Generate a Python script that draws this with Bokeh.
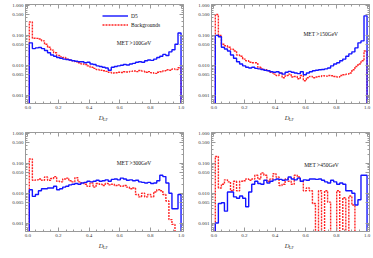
import numpy as np
from bokeh.plotting import figure
from bokeh.layouts import gridplot
from bokeh.models import (FixedTicker, SingleIntervalTicker, PrintfTickFormatter,
                          Label, Legend, LegendItem, LinearAxis, LogAxis)
from bokeh.embed import file_html
from bokeh.resources import INLINE

# ---------------- data ----------------
EMPTY = 1e-6  # empty bin (below the plotted range)
BIN_LO, BIN_HI, N_BINS = 0.01, 1.0, 50

titles = ["MET >100GeV", "MET >150GeV", "MET >300GeV", "MET >450GeV"]
x_label_main, x_label_sub = "D", "LF"

d5_100 = [0.056, 0.036, 0.038, 0.039, 0.036, 0.031, 0.026, 0.022, 0.020, 0.018,
          0.017, 0.016, 0.0155, 0.015, 0.014, 0.0135, 0.013, 0.013, 0.012, 0.0125,
          0.011, 0.0105, 0.0095, 0.009, 0.0085, 0.008, 0.0068, 0.0085, 0.009, 0.0095,
          0.010, 0.0105, 0.0102, 0.011, 0.0115, 0.0125, 0.013, 0.0125, 0.014, 0.015,
          0.0145, 0.016, 0.018, 0.020, 0.023, 0.021, 0.028, 0.033, 0.050, 0.12]
bg_100 = [0.28, 0.080, 0.079, 0.075, 0.065, 0.050, 0.040, 0.032, 0.026, 0.021,
          0.019, 0.018, 0.016, 0.015, 0.014, 0.013, 0.012, 0.011, 0.0105, 0.0095,
          0.0085, 0.0078, 0.0072, 0.0068, 0.0065, 0.0062, 0.0058, 0.0055, 0.0056, 0.0058,
          0.0057, 0.0060, 0.0059, 0.0062, 0.0064, 0.0061, 0.0066, 0.0063, 0.0058, 0.0061,
          0.0056, 0.0053, 0.0058, 0.0060, 0.0065, 0.0070, 0.0068, 0.0075, 0.0072, 0.0082]

d5_150 = [0.10, 0.09, 0.040, 0.035, 0.030, 0.022, 0.017, 0.013, 0.011, 0.0095,
          0.0085, 0.008, 0.0085, 0.0078, 0.0075, 0.0072, 0.0068, 0.0065, 0.006, 0.0058,
          0.006, 0.0055, 0.005, 0.0058, 0.0062, 0.0058, 0.0055, 0.0052, 0.006, 0.0048,
          0.0055, 0.006, 0.0065, 0.0068, 0.007, 0.0072, 0.0075, 0.008, 0.0095, 0.011,
          0.012, 0.014, 0.016, 0.020, 0.024, 0.028, 0.038, 0.056, 0.065, 0.45]
bg_150 = [0.50, 0.10, 0.050, 0.045, 0.040, 0.034, 0.030, 0.022, 0.020, 0.016,
          0.014, 0.0125, 0.012, 0.012, 0.0085, 0.0075, 0.007, 0.0065, 0.0058, 0.005,
          0.0045, 0.0055, 0.0038, 0.0045, 0.005, 0.004, 0.0042, 0.0035, 0.0045, 0.003,
          0.0038, 0.0042, 0.0038, 0.004, 0.0042, 0.0044, 0.0043, 0.0045, 0.0044, 0.0042,
          0.004, 0.0045, 0.0048, 0.005, 0.0055, 0.007, 0.009, 0.011, 0.014, 0.030]

d5_300 = [0.013, 0.0078, 0.009, 0.012, 0.014, 0.014, 0.015, 0.015, 0.017, 0.013,
          0.014, 0.016, 0.017, 0.019, 0.020, 0.021, 0.020, 0.022, 0.023, 0.025,
          0.024, 0.025, 0.027, 0.025, 0.026, 0.028, 0.025, 0.029, 0.030, 0.028,
          0.032, 0.030, 0.027, 0.028, 0.026, 0.027, 0.024, 0.023, 0.022, 0.023,
          0.021, 0.022, 0.026, 0.040, 0.036, 0.022, 0.010, 0.003, 0.003, 0.009]
bg_300 = [0.14, 0.027, 0.028, 0.030, 0.027, 0.035, 0.027, 0.031, 0.036, 0.025,
          0.024, 0.030, 0.032, 0.026, 0.024, 0.033, 0.024, 0.022, 0.020, 0.017,
          0.022, 0.016, 0.021, 0.020, 0.018, 0.021, 0.019, 0.020, 0.018, 0.019,
          0.017, 0.018, 0.016, 0.014, 0.015, 0.009, 0.0075, 0.010, 0.0075, 0.009,
          0.0075, 0.011, 0.013, 0.012, 0.009, 0.0055, 0.0013, 0.0009, EMPTY, EMPTY]

d5_450 = [0.001, 0.0045, 0.0048, 0.0025, 0.011, 0.011, 0.0075, 0.0068, 0.008, 0.0068,
          0.0035, 0.011, 0.020, 0.025, 0.021, 0.020, 0.027, 0.022, 0.025, 0.028,
          0.030, 0.029, 0.027, 0.028, 0.035, 0.030, 0.028, 0.032, 0.025, 0.028,
          0.027, 0.030, 0.030, 0.029, 0.030, 0.027, 0.024, 0.022, 0.027, 0.024,
          0.020, 0.022, 0.020, 0.012, 0.012, 0.010, 0.004, 0.006, 0.040, 0.040]
bg_450 = [0.17, 0.015, 0.020, 0.028, 0.024, 0.012, 0.025, 0.012, 0.025, 0.026,
          0.030, 0.027, 0.030, 0.040, 0.030, 0.048, 0.040, 0.025, 0.030, 0.045,
          0.035, 0.018, 0.020, 0.030, 0.025, 0.020, 0.040, 0.035, 0.025, 0.012,
          0.015, 0.012, 0.0045, EMPTY, 0.012, EMPTY, 0.012, 0.005, EMPTY, EMPTY,
          0.012, EMPTY, 0.007, EMPTY, 0.008, 0.004, EMPTY, EMPTY, EMPTY, EMPTY]

signal = [d5_100, d5_150, d5_300, d5_450]
background = [bg_100, bg_150, bg_300, bg_450]

y_major = [0.001, 0.005, 0.01, 0.05, 0.1, 0.5, 1.0]
y_minor = [m * 10.0 ** e for e in (-4, -3, -2, -1) for m in range(2, 10) if m != 5]

# ---------------- styling ----------------
FONT = "Liberation Serif"
AX = "#9a9a9a"
BLUE = "#1414ff"
RED = "#ff2424"
XR = (-0.015, 1.016)
YR = (0.00052, 1.08)
LABEL_X_MAIN, LABEL_X_SUB = 0.478, 0.507

edges = np.linspace(BIN_LO, BIN_HI, N_BINS + 1)


def step_xy(vals):
    xs = np.concatenate([[edges[0]], edges])
    ys = np.concatenate([[EMPTY], np.asarray(vals, dtype=float), [EMPTY]])
    return xs, ys


def x_ticker():
    return SingleIntervalTicker(interval=0.2, num_minor_ticks=4)


def y_ticker():
    return FixedTicker(ticks=y_major, minor_ticks=y_minor)


def label_axis(pos, text, size, style, standoff):
    ax = LinearAxis(ticker=FixedTicker(ticks=[pos], minor_ticks=[]),
                    major_label_overrides={pos: text})
    ax.axis_line_color = None
    ax.major_tick_line_color = None
    ax.minor_tick_line_color = None
    ax.major_tick_in = 0
    ax.major_tick_out = 0
    ax.major_label_text_font = FONT
    ax.major_label_text_font_size = size
    ax.major_label_text_font_style = style
    ax.major_label_text_color = "#333333"
    ax.major_label_standoff = standoff
    return ax


def tick_style(ax):
    ax.axis_line_color = AX
    ax.major_tick_line_color = AX
    ax.minor_tick_line_color = AX
    ax.major_tick_in = 4
    ax.major_tick_out = 0
    ax.minor_tick_in = 2
    ax.minor_tick_out = 0


def style_axes(p):
    for ax in p.xaxis:
        ax.ticker = x_ticker()
        ax.formatter = PrintfTickFormatter(format="%.1f")
    for ax in p.yaxis:
        ax.ticker = y_ticker()
        ax.formatter = PrintfTickFormatter(format="%.3f")
    for ax in p.axis:
        tick_style(ax)
        ax.major_label_text_font = FONT
        ax.major_label_text_font_size = "5px"
        ax.major_label_text_color = "#333333"
        ax.major_label_standoff = 2


def mirror_axis(cls, ticker):
    ax = cls(ticker=ticker)
    tick_style(ax)
    ax.major_label_text_color = None
    ax.major_label_text_font_size = "1px"
    ax.major_label_standoff = 0
    return ax


def make_panel(i, left, right, top, bottom):
    p = figure(frame_width=158, frame_height=99, x_range=XR, y_range=YR,
               y_axis_type="log", output_backend="svg", toolbar_location=None,
               min_border_left=left, min_border_right=right,
               min_border_top=top, min_border_bottom=bottom)
    p.grid.visible = False
    p.outline_line_color = AX
    p.background_fill_color = "white"
    p.border_fill_color = "white"
    style_axes(p)

    # frame ticks mirrored on the right and top edges (no labels)
    p.add_layout(mirror_axis(LogAxis, y_ticker()), "right")
    p.add_layout(mirror_axis(LinearAxis, x_ticker()), "above")

    # axis title D_LF: italic D with a smaller, lowered LF
    p.add_layout(label_axis(LABEL_X_MAIN, x_label_main, "6.5px", "italic", 2), "below")
    p.add_layout(label_axis(LABEL_X_SUB, x_label_sub, "4.2px", "normal", -7), "below")

    xb, yb = step_xy(background[i])
    rb = p.step(xb, yb, mode="after", line_color=RED, line_width=1.4, line_dash="2 1")
    xs, ys = step_xy(signal[i])
    rs = p.step(xs, ys, mode="after", line_color=BLUE, line_width=1.4)

    ann_pos = [(0.58, 0.056), (0.585, 0.108), (0.58, 0.10), (0.59, 0.09)][i]
    p.add_layout(Label(x=ann_pos[0], y=ann_pos[1], text=titles[i], text_font=FONT,
                       text_font_size="5.5px", text_color="#111111",
                       text_baseline="middle"))
    return p, rs, rb


p1, s1, b1 = make_panel(0, 25, 7, 4, 25)
p2, _, _ = make_panel(1, 21, 4, 4, 25)
p3, _, _ = make_panel(2, 25, 7, 4, 26)
p4, _, _ = make_panel(3, 21, 4, 4, 26)

legend = Legend(items=[LegendItem(label="D5", renderers=[s1]),
                       LegendItem(label="Backgrounds", renderers=[b1])],
                location=(77, 74), orientation="vertical",
                background_fill_alpha=0, border_line_alpha=0,
                label_text_font=FONT, label_text_font_size="5.5px",
                label_text_color="#111111",
                glyph_width=26, glyph_height=9, label_height=9,
                label_standoff=3, spacing=0, padding=0, margin=0)
p1.add_layout(legend)

grid = gridplot([[p1, p2], [p3, p4]], toolbar_location=None)

open("out.html", "w").write(file_html(grid, INLINE))
